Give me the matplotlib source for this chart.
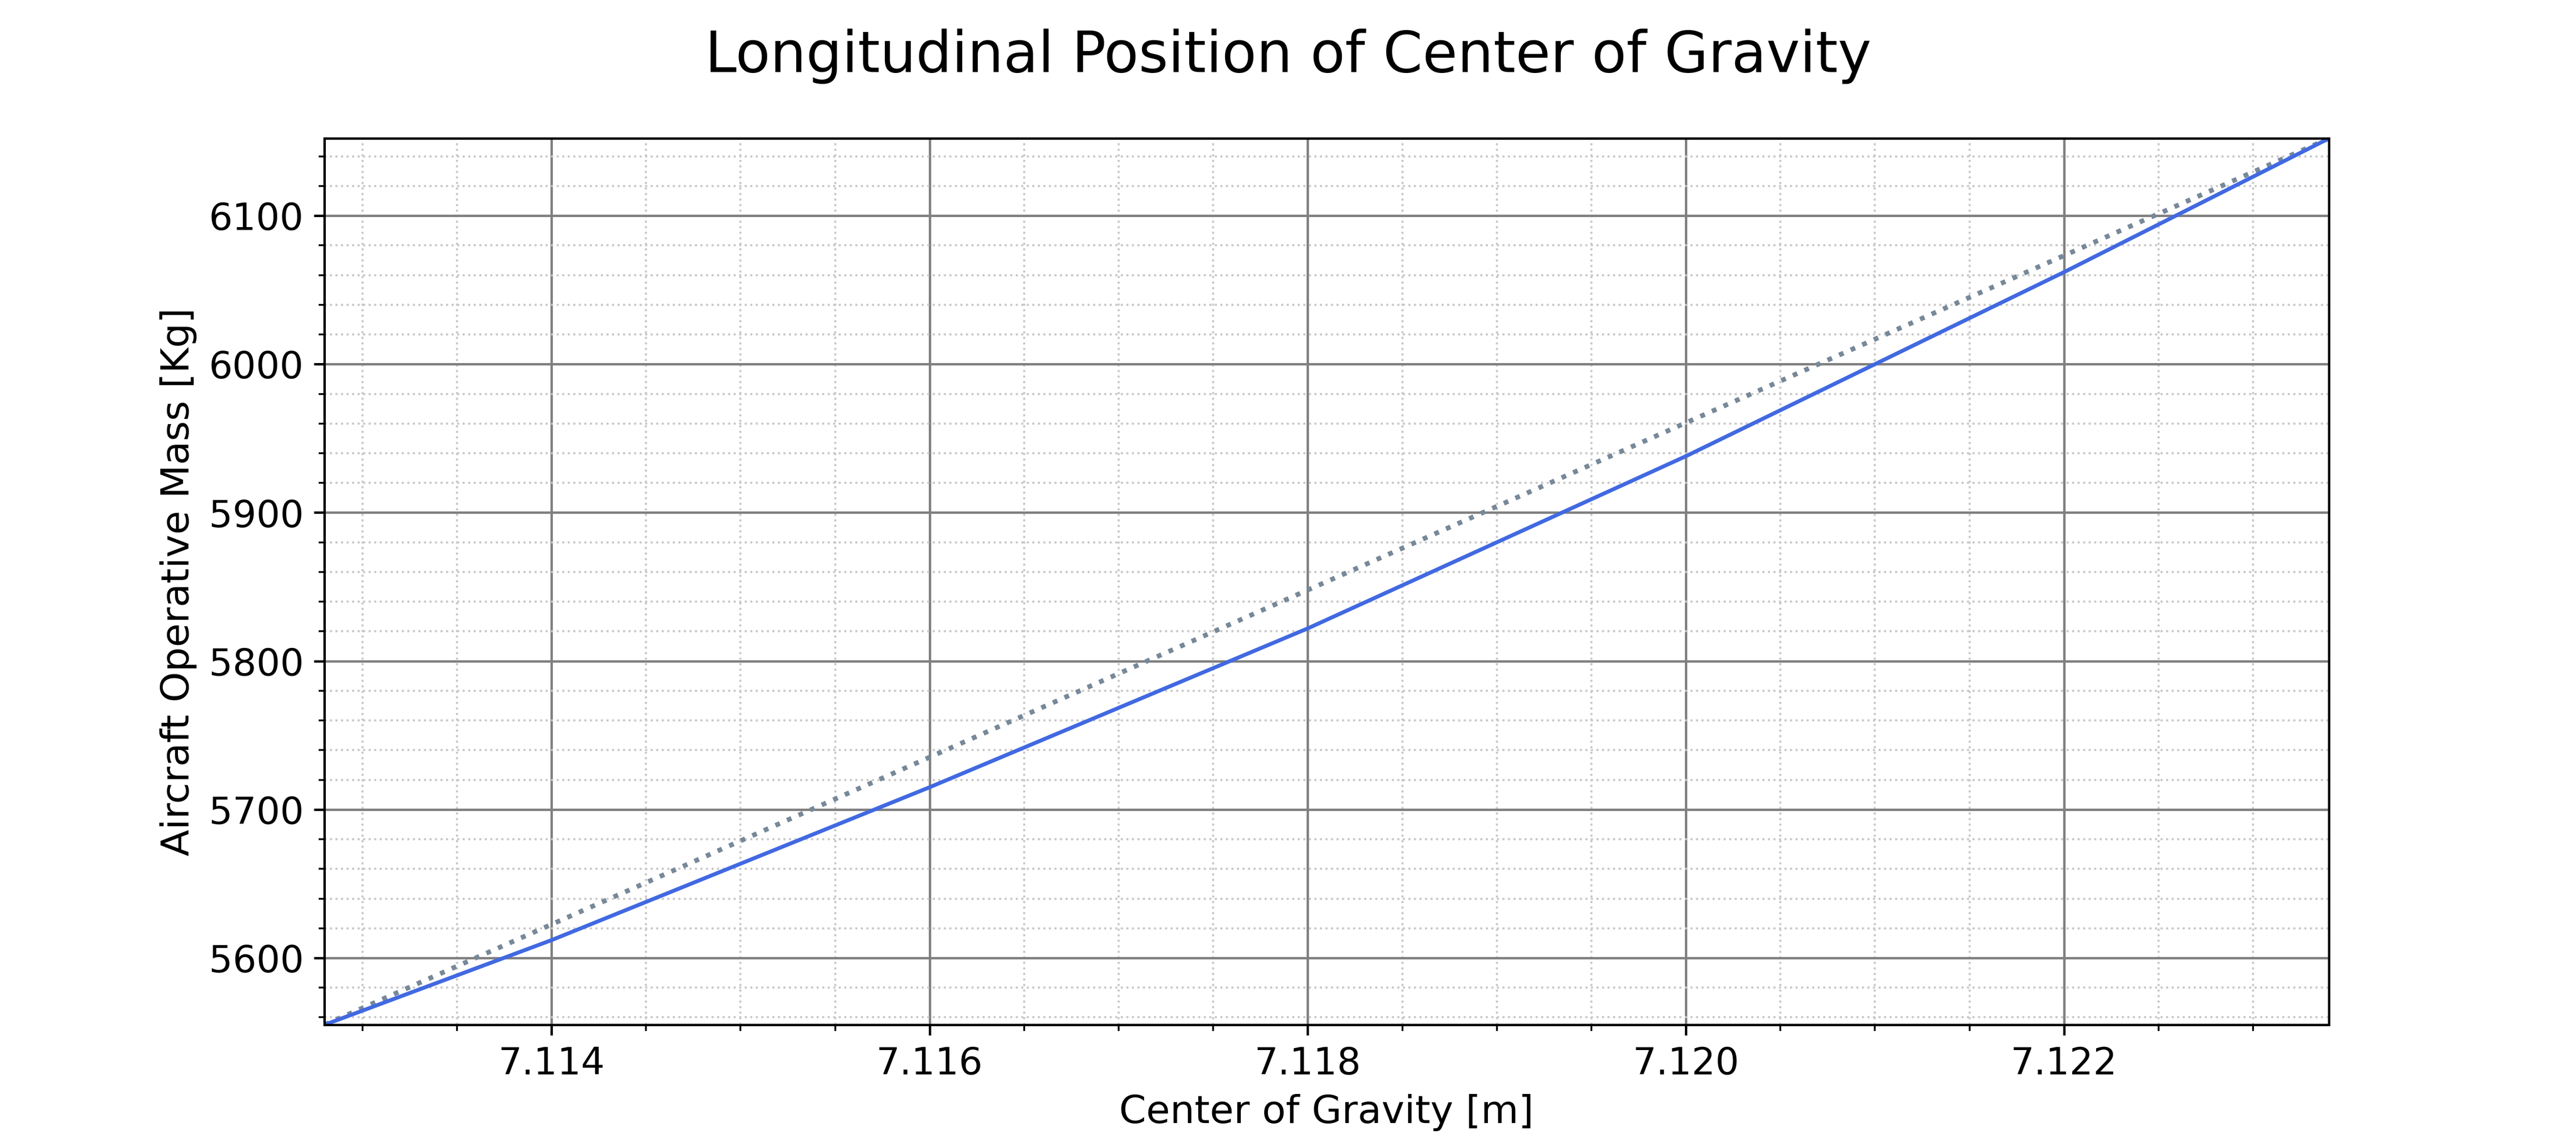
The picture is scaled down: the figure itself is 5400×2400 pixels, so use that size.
import numpy as np
import matplotlib.pyplot as plt
from matplotlib.ticker import MultipleLocator

# values
cg = [7.1128, 7.1140, 7.1160, 7.1180, 7.1190, 7.1200, 7.1220, 7.1234]
mass = [5555, 5612, 5715, 5822, 5880, 5938, 6062, 6152]

fig = plt.figure(figsize=(12, 5.3334), dpi=450)
ax = fig.add_axes([0.126, 0.105, 0.778, 0.774])

ax.plot([cg[0], cg[-1]], [mass[0], mass[-1]], linestyle=":", color="#778899", linewidth=1.6)
ax.plot(cg, mass, color="royalblue", linewidth=1.3)

ax.set_xlim(cg[0], cg[-1])
ax.set_ylim(mass[0], mass[-1])
ax.xaxis.set_major_locator(MultipleLocator(0.002))
ax.xaxis.set_minor_locator(MultipleLocator(0.0005))
ax.yaxis.set_major_locator(MultipleLocator(100))
ax.yaxis.set_minor_locator(MultipleLocator(20))
ax.xaxis.set_major_formatter(plt.FormatStrFormatter("%.3f"))
ax.grid(which="major", color="gray", linewidth=0.8)
ax.grid(which="minor", color="#c8c8c8", linestyle=":", linewidth=0.7)
ax.tick_params(labelsize=12.5)

ax.set_xlabel("Center of Gravity [m]", fontsize=13)
ax.set_ylabel("Aircraft Operative Mass [Kg]", fontsize=13)
fig.suptitle("Longitudinal Position of Center of Gravity", fontsize=19, y=0.975)

fig.savefig("out.png")
